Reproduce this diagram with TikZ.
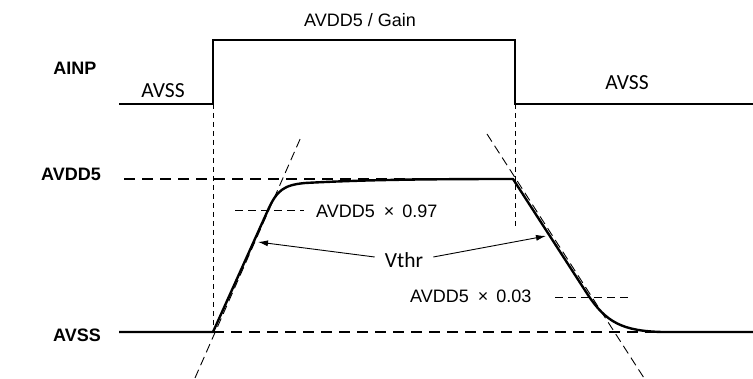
\documentclass[tikz,border=0pt]{standalone}
\usepackage{fontspec}
\setmainfont{Liberation Sans}
\newfontfamily\carlfont{Carlito}
\usetikzlibrary{arrows.meta}
\tikzset{
  wave/.style={line width=2.4pt, line join=miter},
  refdash/.style={line width=2.4pt, dash pattern=on 11pt off 7pt},
  guide/.style={line width=1pt, dash pattern=on 5pt off 4pt},
  tangent/.style={line width=0.9pt, dash pattern=on 9pt off 5pt},
  level/.style={line width=0.9pt, dash pattern=on 8pt off 5pt},
  pointer/.style={line width=0.9pt, -{Latex[length=10pt,width=6pt]}},
  sig/.style={font=\bfseries\fontsize{18}{20}\selectfont, inner sep=0pt},
  lab/.style={font=\fontsize{18}{20}\selectfont, inner sep=0pt},
  clab/.style={font=\carlfont\fontsize{21.5}{24}\selectfont, inner sep=0pt},
}
\begin{document}
\begin{tikzpicture}[x=1pt, y=-1pt]
\useasboundingbox (0,0) rectangle (753,379);
% key points
\coordinate (a0) at (119,104);
\coordinate (a1) at (213,104);
\coordinate (a2) at (213,40);
\coordinate (a3) at (515,40);
\coordinate (a4) at (515,104);
\coordinate (a5) at (753,104);
\coordinate (s0) at (119,332);
\coordinate (s1) at (213,332);
\coordinate (s2) at (753,332);
\coordinate (d0) at (124,179);
\coordinate (d1) at (513,179);
\coordinate (r1) at (268,210);
\coordinate (f1) at (588,295);
\coordinate (f2) at (662,332);
\coordinate (v2) at (515,228);
\coordinate (t0) at (195,378);
\coordinate (t1) at (301,137);
\coordinate (u0) at (487,134);
\coordinate (u1) at (644,378);
\coordinate (h0) at (235,210);
\coordinate (h1) at (304,210);
\coordinate (k0) at (555,297);
\coordinate (k1) at (631,297);
\coordinate (p1) at (258,242);
\coordinate (p2) at (546,236);

% labels
\node[sig] (ainp) at (75,68) {AINP};
\node[sig] (avdd) at (71,174) {AVDD5};
\node[sig] (avss) at (77,335) {AVSS};
\node[lab] (gain) at (360,20) {AVDD5 / Gain};
\node[clab] (lss) at (163,91) {AVSS};
\node[clab] (rss) at (627,83) {AVSS};
\node[lab, anchor=west] (l97) at (316,211) {AVDD5\hspace{9pt}×\hspace{8pt}0.97};
\node[lab, anchor=west] (l03) at (410,296) {AVDD5\hspace{9pt}×\hspace{8pt}0.03};
\node[clab] (vthr) at (404,260) {Vthr};

% guides
\draw[guide] (a1) -- (s1);
\draw[guide] (a4) -- (v2);
\draw[tangent] (t0) -- (t1);
\draw[tangent] (u0) -- (u1);
\draw[level] (h0) -- (h1);
\draw[level] (k0) -- (k1);

% reference levels
\draw[refdash] (d0) -- (d1);
\draw[refdash] (s1) -- (f2);

% AINP waveform
\draw[wave] (a0) -- (a1) -- (a2) -- (a3) -- (a4) -- (a5);

% output waveform
\draw[wave, line join=round] (s0) -- (s1) -- (r1)
  .. controls (277,190) and (284,185) .. (305,183)
  .. controls (360,180) and (420,179) .. (d1)
  -- (f1) .. controls (606,322) and (622,331) .. (f2) -- (s2);

% Vthr pointers
\draw[pointer] (vthr.west) ++(-10pt,3pt) -- (p1);
\draw[pointer] (vthr.east) ++(10pt,3pt) -- (p2);
\end{tikzpicture}
\end{document}
